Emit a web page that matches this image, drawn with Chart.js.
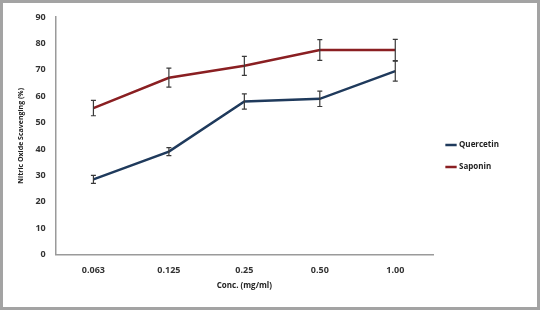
<!DOCTYPE html>
<html>
<head>
<meta charset="utf-8">
<script src="https://cdn.jsdelivr.net/npm/chart.js@4/dist/chart.umd.min.js"></script>
<style>
  html, body { margin: 0; padding: 0; background: #fff; }
  #wrap { width: 534px; height: 304px; border: 3px solid #a3a3a3; background: #fff; }
</style>
</head>
<body>
<div id="wrap"><canvas id="chart" width="534" height="304"></canvas></div>
<script>
    // valores
    const categorias = ['0.063', '0.125', '0.25', '0.50', '1.00'];
    const quercetina = [28.5, 39, 58, 59, 69.5];
    const quercetinaErro = [1.5, 1.5, 2.9, 2.9, 3.8];
    const saponina = [55.5, 67, 71.5, 77.5, 77.5];
    const saponinaErro = [2.9, 3.6, 3.6, 3.9, 4.0];
    const ticksY = [0, 10, 20, 30, 40, 50, 60, 70, 80, 90];

    // desenha as barras de erro usando as escalas do grafico
    const barrasErro = {
        id: 'barrasErro',
        afterDatasetsDraw(chart) {
            const ctx = chart.ctx;
            const y = chart.scales.y;
            chart.data.datasets.forEach((ds, i) => {
                const meta = chart.getDatasetMeta(i);
                meta.data.forEach((pt, j) => {
                    const v = ds.data[j];
                    const e = ds.erros[j];
                    const yTop = y.getPixelForValue(v + e);
                    const yBot = y.getPixelForValue(v - e);
                    ctx.save();
                    ctx.strokeStyle = '#3a3a3a';
                    ctx.lineWidth = 1.2;
                    ctx.beginPath();
                    ctx.moveTo(pt.x, yTop); ctx.lineTo(pt.x, yBot);
                    ctx.moveTo(pt.x - 2.5, yTop); ctx.lineTo(pt.x + 2.5, yTop);
                    ctx.moveTo(pt.x - 2.5, yBot); ctx.lineTo(pt.x + 2.5, yBot);
                    ctx.stroke();
                    ctx.restore();
                });
            });
        }
    };

    const fonte = { family: 'Open Sans', weight: 'bold', size: 9 };

    new Chart(document.getElementById('chart'), {
        type: 'line',
        data: {
            labels: categorias,
            datasets: [
                {
                    label: 'Quercetin',
                    data: quercetina,
                    erros: quercetinaErro,
                    borderColor: '#1f3a5c',
                    backgroundColor: '#1f3a5c',
                    borderWidth: 2.5,
                    pointRadius: 0,
                    tension: 0
                },
                {
                    label: 'Saponin',
                    data: saponina,
                    erros: saponinaErro,
                    borderColor: '#8a1f22',
                    backgroundColor: '#8a1f22',
                    borderWidth: 2.5,
                    pointRadius: 0,
                    tension: 0
                }
            ]
        },
        options: {
            responsive: false,
            animation: false,
            layout: { padding: { top: 14, left: 10, right: 28, bottom: 12 } },
            plugins: {
                tooltip: { enabled: false },
                legend: {
                    position: 'right',
                    labels: {
                        usePointStyle: true,
                        pointStyle: 'line',
                        boxWidth: 30,
                        color: '#222',
                        font: { family: 'Open Sans', weight: 'bold', size: 8 },
                        padding: 14
                    }
                }
            },
            scales: {
                x: {
                    offset: true,
                    grid: { display: false, drawTicks: true, tickLength: 4 },
                    border: { color: '#9a9a9a', width: 1.5 },
                    ticks: { color: '#333', font: fonte, padding: 6 },
                    title: {
                        display: true,
                        text: 'Conc. (mg/ml)',
                        color: '#222',
                        font: { family: 'Open Sans', weight: 'bold', size: 8 },
                        padding: { top: 0 }
                    }
                },
                y: {
                    min: 0,
                    max: 90,
                    afterBuildTicks: axis => { axis.ticks = ticksY.map(v => ({ value: v })); },
                    grid: { display: false, drawTicks: true, tickLength: 4, color: '#9a9a9a' },
                    border: { color: '#9a9a9a', width: 1.5 },
                    ticks: { color: '#333', font: fonte, padding: 6 },
                    title: {
                        display: true,
                        text: 'Nitric Oxide Scavenging (%)',
                        color: '#222',
                        font: { family: 'Open Sans', weight: 'bold', size: 7 },
                        padding: { bottom: 4 }
                    }
                }
            }
        },
        plugins: [barrasErro]
    });
</script>
</body>
</html>
